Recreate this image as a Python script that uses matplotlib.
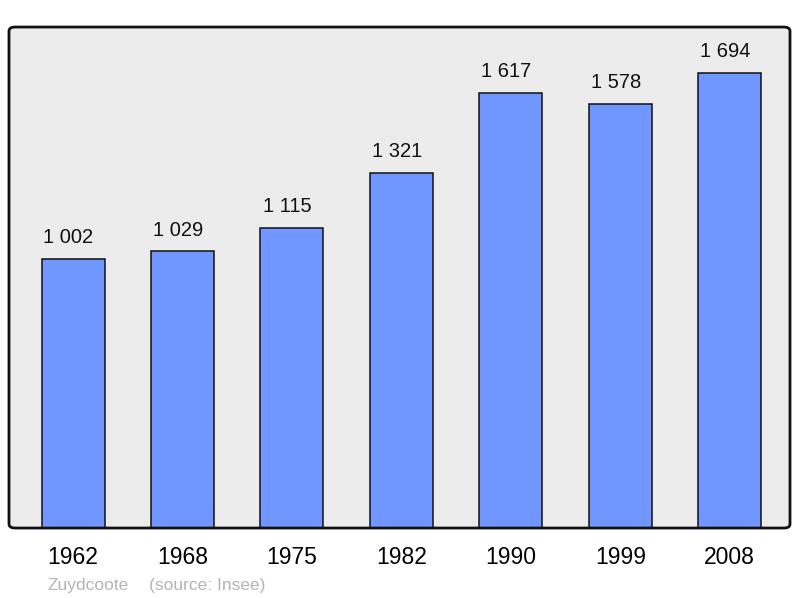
import matplotlib.pyplot as plt
from matplotlib.patches import FancyBboxPatch

plt.rcParams['font.family'] = ['Liberation Sans', 'DejaVu Sans']

annees = ['1962', '1968', '1975', '1982', '1990', '1999', '2008']
population = [1002, 1029, 1115, 1321, 1617, 1578, 1694]
etiquettes = ['1 002', '1 029', '1 115', '1 321', '1 617', '1 578', '1 694']

fig = plt.figure(figsize=(8, 5.98), dpi=100)
ax = fig.add_axes([0.01125, 0.117, 0.97625, 0.8378])
ax.set_facecolor('#ececec')

x = list(range(len(annees)))
ax.bar(x, population, width=0.575, color='#7096ff', edgecolor='#111111',
       linewidth=1.1, zorder=2)

# les etiquettes sont un peu decalees vers la gauche dans l'original
for xi, v, t in zip(x, population, etiquettes):
    ax.annotate(t, (xi, v), xytext=(-3.3, 8.5), textcoords='offset points',
                ha='center', va='bottom', fontsize=14.5, color='#111111')

ax.set_xlim(-0.585, 6.55)
ax.set_ylim(0, max(population) * 1.1)
ax.set_xticks(x)
ax.set_xticklabels(annees, fontsize=16.5)
ax.tick_params(axis='x', length=0, pad=13)
ax.set_yticks([])
for s in ax.spines.values():
    s.set_visible(False)

cadre = FancyBboxPatch((0, 0), 1, 1, boxstyle='round,pad=0,rounding_size=0.008',
                       transform=ax.transAxes, facecolor='none',
                       edgecolor='#111111', linewidth=2, clip_on=False, zorder=5)
ax.add_patch(cadre)

fig.text(0.06, 0.014, 'Zuydcoote', fontsize=12.5, color='#b4b4b4')
fig.text(0.186, 0.014, '(source: Insee)', fontsize=12.5, color='#b4b4b4')

fig.savefig('out.png')
